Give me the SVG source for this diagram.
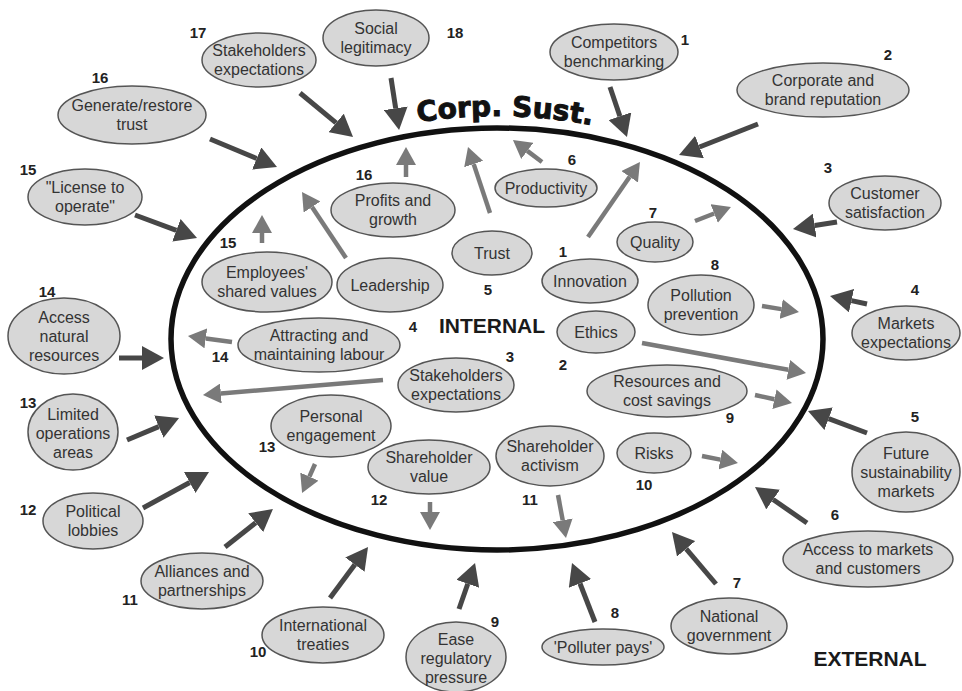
<svg xmlns="http://www.w3.org/2000/svg" xmlns:xlink="http://www.w3.org/1999/xlink" width="962" height="691" viewBox="0 0 962 691">
<style>
.node ellipse{fill:#d7d7d7;stroke:#555;stroke-width:1.5}
.node text{font-family:"Liberation Sans",Arial,sans-serif;font-size:16px;fill:#333;text-anchor:middle}
.num{font-family:"Liberation Sans",Arial,sans-serif;font-size:15px;font-weight:bold;fill:#222;text-anchor:middle}
.ext{stroke:#474747;stroke-width:5;marker-end:url(#ah-ext)}
.int{stroke:#7a7a7a;stroke-width:4.5;marker-end:url(#ah-int)}
.big{font-family:"Liberation Sans",Arial,sans-serif;font-size:21px;font-weight:bold;fill:#1a1a1a}
</style>
<defs>
<marker id="ah-ext" viewBox="0 0 22 24" refX="0" refY="12" markerWidth="22" markerHeight="24" markerUnits="userSpaceOnUse" orient="auto"><path d="M0,0 L22,12 L0,24 z" fill="#474747"/></marker>
<marker id="ah-int" viewBox="0 0 18 20" refX="0" refY="10" markerWidth="18" markerHeight="20" markerUnits="userSpaceOnUse" orient="auto"><path d="M0,0 L18,10 L0,20 z" fill="#7a7a7a"/></marker>
<path id="arc" d="M 400 125.6 A 334 223 0 0 1 610 129.2" fill="none"/>
</defs>
<rect width="962" height="691" fill="#fff"/>
<g id="boundary">
<ellipse cx="497" cy="339" rx="326" ry="211" fill="none" stroke="#111" stroke-width="5.5"/>
<text font-family="'DejaVu Sans',sans-serif" font-size="28" font-weight="bold" fill="#111" stroke="#111" stroke-width="1" text-anchor="middle"><textPath xlink:href="#arc" href="#arc" startOffset="50%">Corp. Sust.</textPath></text>
<text class="big" x="492" y="333" text-anchor="middle">INTERNAL</text>
<text class="big" x="870" y="666" text-anchor="middle">EXTERNAL</text>
</g>
<g id="connectors">
<line class="ext" x1="391" y1="78" x2="395.7" y2="108.3"/>
<line class="ext" x1="300" y1="93" x2="336.1" y2="122.9"/>
<line class="ext" x1="210" y1="139" x2="256.7" y2="158.5"/>
<line class="ext" x1="135" y1="215" x2="176.4" y2="230.3"/>
<line class="ext" x1="119" y1="358" x2="142" y2="358"/>
<line class="ext" x1="127" y1="440" x2="158.8" y2="426.6"/>
<line class="ext" x1="143" y1="508" x2="189.7" y2="482.5"/>
<line class="ext" x1="225" y1="547" x2="255.7" y2="522.7"/>
<line class="ext" x1="330" y1="598" x2="354.9" y2="564.6"/>
<line class="ext" x1="459" y1="609" x2="467.8" y2="583.8"/>
<line class="ext" x1="595" y1="622" x2="580" y2="583.5"/>
<line class="ext" x1="716" y1="584" x2="686.2" y2="548.8"/>
<line class="ext" x1="807" y1="523" x2="773.1" y2="499.5"/>
<line class="ext" x1="867" y1="433" x2="828.6" y2="418.7"/>
<line class="ext" x1="867" y1="304" x2="851.5" y2="300.6"/>
<line class="ext" x1="837" y1="222" x2="814.7" y2="225.5"/>
<line class="ext" x1="758" y1="124" x2="699.5" y2="147"/>
<line class="ext" x1="610" y1="87" x2="619.9" y2="116.2"/>
<line class="int" x1="406" y1="177" x2="406" y2="165"/>
<line class="int" x1="490" y1="213" x2="473.7" y2="164.1"/>
<line class="int" x1="542" y1="162" x2="527.3" y2="150.9"/>
<line class="int" x1="588" y1="237" x2="629.7" y2="176.8"/>
<line class="int" x1="695" y1="221" x2="714.2" y2="213.5"/>
<line class="int" x1="762" y1="306" x2="781.2" y2="309.1"/>
<line class="int" x1="642" y1="343" x2="788.3" y2="369.8"/>
<line class="int" x1="755" y1="395" x2="774.4" y2="399.2"/>
<line class="int" x1="702" y1="456" x2="720.3" y2="459.6"/>
<line class="int" x1="558" y1="495" x2="562.7" y2="520.3"/>
<line class="int" x1="430" y1="502" x2="430" y2="512"/>
<line class="int" x1="315" y1="464" x2="309.4" y2="476.6"/>
<line class="int" x1="383" y1="380" x2="220.9" y2="393.5"/>
<line class="int" x1="232" y1="342" x2="205.8" y2="338.4"/>
<line class="int" x1="262" y1="243" x2="262" y2="233"/>
<line class="int" x1="346" y1="258" x2="312" y2="207"/>
</g>
<g id="ext-1" class="node"><ellipse cx="614" cy="52" rx="64" ry="28"/><text x="614" y="48">Competitors</text><text x="614" y="67">benchmarking</text></g>
<g id="ext-2" class="node"><ellipse cx="823" cy="90" rx="86" ry="27"/><text x="823" y="86">Corporate and</text><text x="823" y="105">brand reputation</text></g>
<g id="ext-3" class="node"><ellipse cx="885" cy="203" rx="56" ry="27"/><text x="885" y="199">Customer</text><text x="885" y="218">satisfaction</text></g>
<g id="ext-4" class="node"><ellipse cx="906" cy="333" rx="54" ry="27"/><text x="906" y="329">Markets</text><text x="906" y="348">expectations</text></g>
<g id="ext-5" class="node"><ellipse cx="906" cy="472" rx="54" ry="40"/><text x="906" y="458.5">Future</text><text x="906" y="477.5">sustainability</text><text x="906" y="496.5">markets</text></g>
<g id="ext-6" class="node"><ellipse cx="868" cy="559" rx="85" ry="28"/><text x="868" y="555">Access to markets</text><text x="868" y="574">and customers</text></g>
<g id="ext-7" class="node"><ellipse cx="729" cy="626" rx="58" ry="28"/><text x="729" y="622">National</text><text x="729" y="641">government</text></g>
<g id="ext-8" class="node"><ellipse cx="603" cy="647" rx="61" ry="18"/><text x="603" y="652.5">'Polluter pays'</text></g>
<g id="ext-9" class="node"><ellipse cx="456" cy="657" rx="50" ry="35"/><text x="456" y="644.5">Ease</text><text x="456" y="663.5">regulatory</text><text x="456" y="682.5">pressure</text></g>
<g id="ext-10" class="node"><ellipse cx="323" cy="635" rx="61" ry="28"/><text x="323" y="631">International</text><text x="323" y="650">treaties</text></g>
<g id="ext-11" class="node"><ellipse cx="202" cy="581" rx="61" ry="28"/><text x="202" y="577">Alliances and</text><text x="202" y="596">partnerships</text></g>
<g id="ext-12" class="node"><ellipse cx="93" cy="521" rx="50" ry="28"/><text x="93" y="517">Political</text><text x="93" y="536">lobbies</text></g>
<g id="ext-13" class="node"><ellipse cx="73" cy="432" rx="45" ry="38"/><text x="73" y="419.5">Limited</text><text x="73" y="438.5">operations</text><text x="73" y="457.5">areas</text></g>
<g id="ext-14" class="node"><ellipse cx="64" cy="336" rx="56" ry="38"/><text x="64" y="322.5">Access</text><text x="64" y="341.5">natural</text><text x="64" y="360.5">resources</text></g>
<g id="ext-15" class="node"><ellipse cx="85" cy="197" rx="57" ry="28"/><text x="85" y="193">"License to</text><text x="85" y="212">operate"</text></g>
<g id="ext-16" class="node"><ellipse cx="132" cy="115" rx="74" ry="29"/><text x="132" y="111">Generate/restore</text><text x="132" y="130">trust</text></g>
<g id="ext-17" class="node"><ellipse cx="259" cy="60" rx="57" ry="27"/><text x="259" y="56">Stakeholders</text><text x="259" y="75">expectations</text></g>
<g id="ext-18" class="node"><ellipse cx="376" cy="38" rx="53" ry="28"/><text x="376" y="34">Social</text><text x="376" y="53">legitimacy</text></g>
<g id="int-1" class="node"><ellipse cx="590" cy="281" rx="48" ry="22"/><text x="590" y="286.5">Innovation</text></g>
<g id="int-2" class="node"><ellipse cx="596" cy="332" rx="39" ry="21"/><text x="596" y="337.5">Ethics</text></g>
<g id="int-3" class="node"><ellipse cx="456" cy="385" rx="58" ry="27"/><text x="456" y="381">Stakeholders</text><text x="456" y="400">expectations</text></g>
<g id="int-4" class="node"><ellipse cx="319" cy="345" rx="81" ry="27"/><text x="319" y="341">Attracting and</text><text x="319" y="360">maintaining labour</text></g>
<g id="int-5" class="node"><ellipse cx="492" cy="253" rx="40" ry="22"/><text x="492" y="258.5">Trust</text></g>
<g id="int-6" class="node"><ellipse cx="546" cy="188" rx="51" ry="19"/><text x="546" y="193.5">Productivity</text></g>
<g id="int-7" class="node"><ellipse cx="655" cy="242" rx="38" ry="20"/><text x="655" y="247.5">Quality</text></g>
<g id="int-8" class="node"><ellipse cx="701" cy="305" rx="53" ry="30"/><text x="701" y="301">Pollution</text><text x="701" y="320">prevention</text></g>
<g id="int-9" class="node"><ellipse cx="667" cy="391" rx="80" ry="26"/><text x="667" y="387">Resources and</text><text x="667" y="406">cost savings</text></g>
<g id="int-10" class="node"><ellipse cx="654" cy="453" rx="37" ry="20"/><text x="654" y="458.5">Risks</text></g>
<g id="int-11" class="node"><ellipse cx="550" cy="456" rx="54" ry="30"/><text x="550" y="452">Shareholder</text><text x="550" y="471">activism</text></g>
<g id="int-12" class="node"><ellipse cx="429" cy="467" rx="61" ry="27"/><text x="429" y="463">Shareholder</text><text x="429" y="482">value</text></g>
<g id="int-13" class="node"><ellipse cx="331" cy="426" rx="60" ry="31"/><text x="331" y="422">Personal</text><text x="331" y="441">engagement</text></g>
<g id="int-15" class="node"><ellipse cx="267" cy="282" rx="65" ry="30"/><text x="267" y="278">Employees'</text><text x="267" y="297">shared values</text></g>
<g id="int-16" class="node"><ellipse cx="393" cy="210" rx="62" ry="27"/><text x="393" y="206">Profits and</text><text x="393" y="225">growth</text></g>
<g id="int-leadership" class="node"><ellipse cx="390" cy="285" rx="53" ry="27"/><text x="390" y="290.5">Leadership</text></g>
<g id="numbers">
<text class="num" x="685" y="45">1</text>
<text class="num" x="888" y="60">2</text>
<text class="num" x="828" y="173">3</text>
<text class="num" x="915" y="295">4</text>
<text class="num" x="915" y="422">5</text>
<text class="num" x="835" y="520">6</text>
<text class="num" x="737" y="588">7</text>
<text class="num" x="615" y="618">8</text>
<text class="num" x="495" y="627">9</text>
<text class="num" x="258" y="657">10</text>
<text class="num" x="130" y="605">11</text>
<text class="num" x="28" y="515">12</text>
<text class="num" x="28" y="408">13</text>
<text class="num" x="47" y="297">14</text>
<text class="num" x="28" y="175">15</text>
<text class="num" x="100" y="83">16</text>
<text class="num" x="198" y="38">17</text>
<text class="num" x="455" y="38">18</text>
<text class="num" x="563" y="257">1</text>
<text class="num" x="563" y="370">2</text>
<text class="num" x="510" y="362">3</text>
<text class="num" x="413" y="332">4</text>
<text class="num" x="488" y="295">5</text>
<text class="num" x="572" y="165">6</text>
<text class="num" x="653" y="218">7</text>
<text class="num" x="715" y="270">8</text>
<text class="num" x="730" y="423">9</text>
<text class="num" x="644" y="490">10</text>
<text class="num" x="530" y="505">11</text>
<text class="num" x="379" y="505">12</text>
<text class="num" x="267" y="452">13</text>
<text class="num" x="220" y="362">14</text>
<text class="num" x="228" y="248">15</text>
<text class="num" x="364" y="180">16</text>
</g>
</svg>
